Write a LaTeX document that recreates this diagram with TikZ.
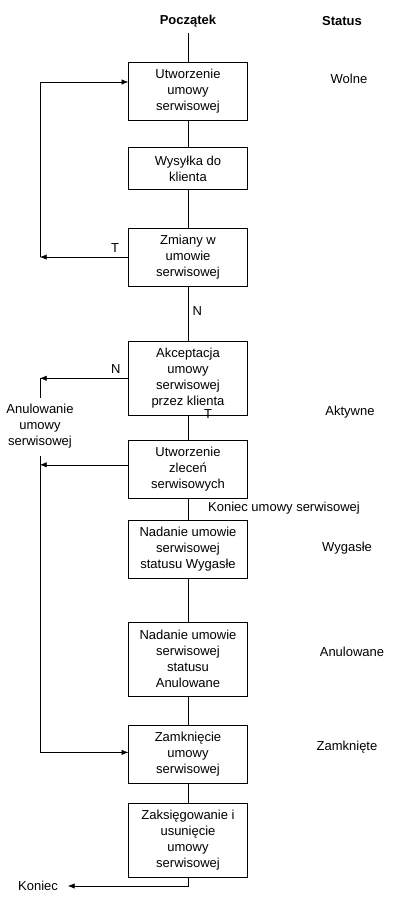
\documentclass[tikz,border=0pt]{standalone}
\usepackage{fontspec}
\setmainfont{Liberation Sans}
\usetikzlibrary{positioning, arrows.meta}
\begin{document}
\begin{tikzpicture}[x=0.75pt, y=-0.75pt, >={Latex[length=5pt, width=4pt]},
  font=\fontsize{9.75}{12}\selectfont,
  head/.style={font=\fontsize{9.75}{12}\selectfont\bfseries},
  box/.style={draw, align=center, minimum width=89.25pt, minimum height=43.5pt, inner sep=2pt},
  short/.style={box, minimum height=31.5pt},
  tall/.style={box, minimum height=55.5pt}]
  \useasboundingbox (0,0) rectangle (416,904);
  \node[head] (poc) at (188,21) {Początek};
  \node[head] (status) at (342,21) {Status};
  \coordinate (top) at (188,33);
  \node[box] (utw) at (188,91) {Utworzenie\\umowy\\serwisowej};
  \node[short] (wys) [below=20.25pt of utw] {Wysyłka do\\klienta};
  \node[box] (zm) [below=28.5pt of wys] {Zmiany w\\umowie\\serwisowej};
  \node[tall] (akc) [below=41pt of zm] {Akceptacja\\umowy\\serwisowej\\przez klienta};
  \node[box] (zlec) [below=18pt of akc] {Utworzenie\\zleceń\\serwisowych};
  \node[box] (wyg) [below=16.5pt of zlec] {Nadanie umowie\\serwisowej\\statusu Wygasłe};
  \node[tall] (anul) [below=32.25pt of wyg] {Nadanie umowie\\serwisowej\\statusu\\Anulowane};
  \node[box] (zamk) [below=21.75pt of anul] {Zamknięcie\\umowy\\serwisowej};
  \node[tall] (ksieg) [below=14.25pt of zamk] {Zaksięgowanie i\\usunięcie\\umowy\\serwisowej};
  \node (wolne) at (349,79) {Wolne};
  \node (aktywne) at (350,412) {Aktywne};
  \node (wygasle) at (347,548) {Wygasłe};
  \node (anulowane) at (352,652) {Anulowane};
  \node (zamkniete) at (347,747) {Zamknięte};
  \node[align=center] (anuluj) at (40,426) {Anulowanie\\umowy\\serwisowej};
  \node (koniec) at (38,886) {Koniec};
  \node (konumowy) at (284,508) {Koniec umowy serwisowej};
  \node (takc) at (208,414) {T};
  \coordinate (lewo) at (40,0);
  \coordinate (kon) at (68,886);
  \draw (top) -- (utw);
  \draw (utw) -- (wys);
  \draw (wys) -- (zm);
  \draw (zm) -- node[right, pos=0.45] {N} (akc);
  \draw (akc) -- (zlec);
  \draw (zlec) -- (wyg);
  \draw (wyg) -- (anul);
  \draw (anul) -- (zamk);
  \draw (zamk) -- (ksieg);
  \draw[->] (zm.west) -- node[above, pos=0.15] {T} (zm.west -| lewo);
  \draw[->] (zm.west -| lewo) |- ([yshift=6.75pt]utw.west);
  \draw[->] (akc.west) -- node[above, pos=0.14] {N} (akc.west -| lewo);
  \draw (akc.west -| lewo) -- ([yshift=-15pt]akc.west -| lewo);
  \draw[->] ([yshift=3pt]zlec.west) -- ([yshift=3pt]zlec.west -| lewo);
  \draw[->] ([yshift=9.75pt]zlec.west -| lewo) |- ([yshift=1.5pt]zamk.west);
  \draw[->] (ksieg.south) |- (kon);
\end{tikzpicture}
\end{document}
